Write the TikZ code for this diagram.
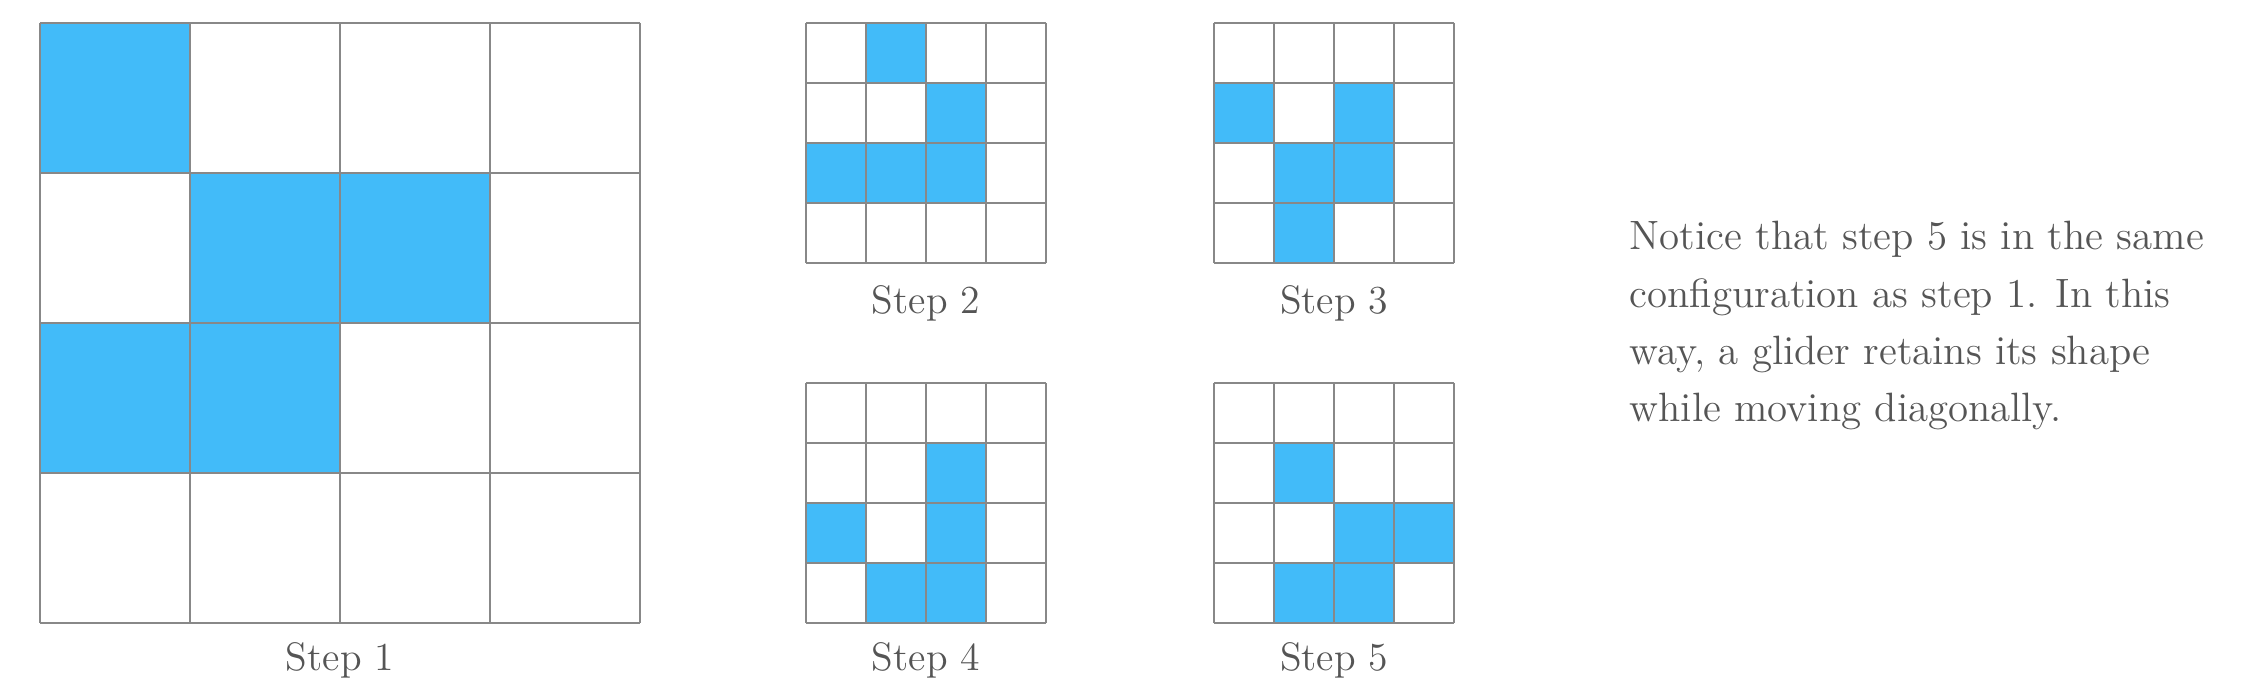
\documentclass[tikz,border=0pt]{standalone}
\usepackage{tikz}
\definecolor{alivecol}{HTML}{42BBF9}
\definecolor{linecol}{HTML}{888888}
\definecolor{textcol}{HTML}{555555}
\tikzset{
  alive/.style={fill=alivecol},
  gridline/.style={draw=linecol,line width=0.021cm},
  steplabel/.style={text=textcol,inner sep=0pt,anchor=base,font=\fontsize{11.3}{13}\selectfont},
  paraline/.style={text=textcol,inner sep=0pt,anchor=base west,font=\fontsize{11.65}{13}\selectfont}
}
% #1 = left x, #2 = top y, #3 = cell size, #4 = list of col/row cells that are alive
\newcommand{\glidergrid}[4]{%
  \foreach \cc/\rr in {#4}{%
    \fill[alive] ({#1+(\cc-1)*#3},{#2-(\rr-1)*#3}) rectangle ++(#3,-#3);
  }
  \foreach \k in {0,1,2,3,4}{%
    \draw[gridline] ({#1+\k*#3},{#2}) -- ({#1+\k*#3},{#2-4*#3});
    \draw[gridline] ({#1},{#2-\k*#3}) -- ({#1+4*#3},{#2-\k*#3});
  }
}
\begin{document}
\begin{tikzpicture}
\useasboundingbox (0,0) rectangle (22.45,6.98);
% Step 1 (large)
\glidergrid{0.40}{6.75}{1.5}{1/1,2/2,3/2,1/3,2/3}
% Step 2
\glidergrid{8.06}{6.75}{0.6}{2/1,3/2,1/3,2/3,3/3}
% Step 3
\glidergrid{12.14}{6.75}{0.6}{1/2,3/2,2/3,3/3,2/4}
% Step 4
\glidergrid{8.06}{3.15}{0.6}{3/2,1/3,3/3,2/4,3/4}
% Step 5
\glidergrid{12.14}{3.15}{0.6}{2/2,3/3,4/3,2/4,3/4}
% labels
\node[steplabel] (l1) at (3.40,0.28) {Step 1};
\node[steplabel] (l2) at (9.26,3.84) {Step 2};
\node[steplabel] (l3) at (13.34,3.84) {Step 3};
\node[steplabel] (l4) at (9.26,0.28) {Step 4};
\node[steplabel] (l5) at (13.34,0.28) {Step 5};
% paragraph
\node[paraline] (p1) at (16.29,4.48) {Notice that step 5 is in the same};
\node[paraline] (p2) at (16.29,3.91) {configuration as step 1. In this};
\node[paraline] (p3) at (16.29,3.34) {way, a glider retains its shape};
\node[paraline] (p4) at (16.29,2.77) {while moving diagonally.};
\end{tikzpicture}
\end{document}
